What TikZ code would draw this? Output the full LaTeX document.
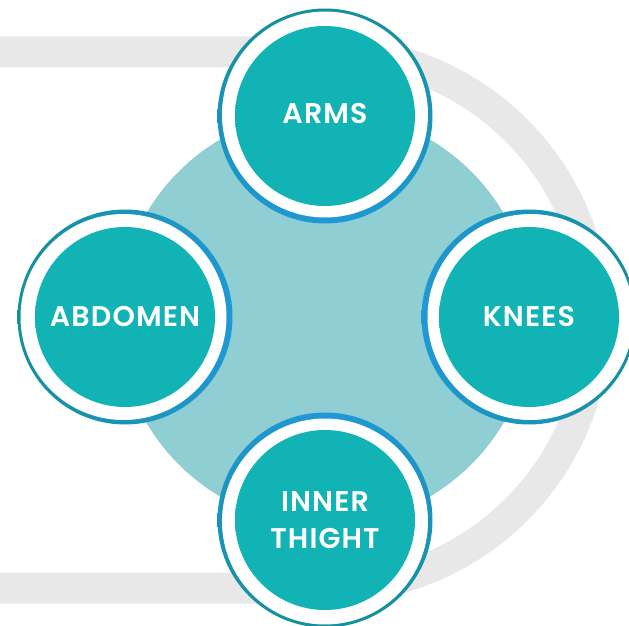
\documentclass[tikz,border=0pt]{standalone}
\usepackage{fontspec}
\setmainfont{Poppins}[BoldFont={* SemiBold}, LetterSpace=4]
\definecolor{greyband}{HTML}{E8E8E8}
\definecolor{bigteal}{HTML}{8FCED3}
\definecolor{tealc}{HTML}{12B3B5}
\definecolor{tealdark}{HTML}{0D9A9E}
\definecolor{ringteal}{HTML}{14909C}
\definecolor{ringblue}{HTML}{1F98D4}
\pgfdeclareradialshading{discshade}{\pgfpoint{0bp}{0bp}}{color(0bp)=(tealc); color(40bp)=(tealc); color(50bp)=(tealdark); color(60bp)=(tealdark)}
\tikzset{
  band/.style={draw=greyband, line width=31pt},
  bigdisc/.style={fill=bigteal},
  whitedisc/.style={fill=white},
  innerdisc/.style={shading=discshade},
  lbl/.style={text=white, font=\bfseries\fontsize{28.5}{37}\selectfont, align=center, inner sep=0pt}
}
\begin{document}
\begin{tikzpicture}[x=1pt,y=1pt]
\useasboundingbox (0,0) rectangle (629,625);
% grey band
\coordinate (bandtop) at (0,573);
\coordinate (bandbot) at (0,37);
\draw[band] (bandtop) -- (327,573) arc[start angle=90, end angle=-90, radius=268] -- (bandbot);
% big disc
\fill[bigdisc] (325,307) circle[radius=207];
% ARMS
\shade[top color=ringteal, middle color=ringteal, bottom color=ringblue] (325,509) circle[radius=107.5];
\fill[whitedisc] (325,510.5) circle[radius=103];
\shade[innerdisc] (325,509) circle[radius=90];
\node[lbl] (arms) at (325,511) {ARMS};
% ABDOMEN
\shade[left color=ringteal, middle color=ringteal, right color=ringblue] (125,308) circle[radius=107.5];
\fill[whitedisc] (123.5,308) circle[radius=103];
\shade[innerdisc] (125,308) circle[radius=90];
\node[lbl] (abdomen) at (125,308) {ABDOMEN};
% KNEES
\shade[left color=ringblue, middle color=ringteal, right color=ringteal] (529,308) circle[radius=107.5];
\fill[whitedisc] (530.5,308) circle[radius=103];
\shade[innerdisc] (529,308) circle[radius=90];
\node[lbl] (knees) at (529,308) {KNEES};
% INNER THIGHT
\shade[top color=ringblue, middle color=ringteal, bottom color=ringteal] (325,105) circle[radius=107.5];
\fill[whitedisc] (325,103.5) circle[radius=103];
\shade[innerdisc] (325,105) circle[radius=90];
\node[lbl] (inner) at (325,105) {INNER\\THIGHT};
\end{tikzpicture}
\end{document}
